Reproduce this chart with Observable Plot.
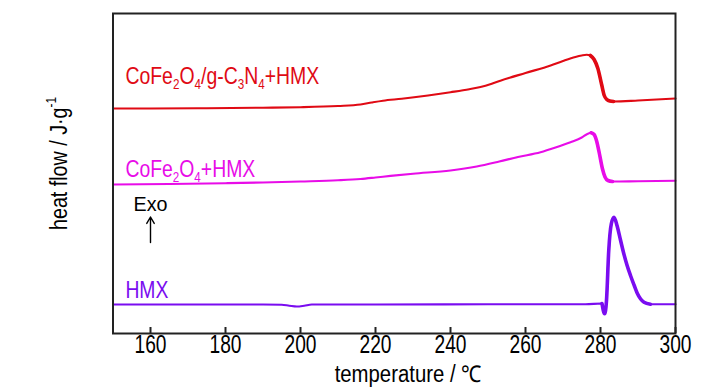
<!DOCTYPE html>
<html><head><meta charset="utf-8">
<script src="https://cdn.jsdelivr.net/npm/d3@7"></script>
<script src="https://cdn.jsdelivr.net/npm/@observablehq/plot@0.6"></script>
<style>
body{margin:0;background:#fff;}
</style></head><body><div id="chart"></div>
<script>
// ---- data (heat flow, arbitrary offset units; higher = exothermic) ----
const seriesNames = ["CoFe_2O_4/g-C_3N_4+HMX", "CoFe_2O_4+HMX", "HMX"];
const seriesColors = ["#e00a14", "#e80ce8", "#7a0cf0"];

const redT = [150, 160, 175, 190, 200, 210, 216, 219, 222, 227, 234, 240, 245, 248, 251, 253.3, 260, 266.7, 270, 273.3, 275, 276.3, 277.3, 278.3, 279.3, 280.3, 281, 281.7, 282.5, 283.5, 290, 300];
const redV = [225, 225, 225.3, 225.8, 226.3, 227.5, 229, 231, 232.8, 234.7, 238, 241.3, 244.3, 246.5, 249.8, 252.8, 260.5, 268, 272.5, 276.5, 278, 278.7, 278, 274, 265, 249, 238, 234, 232.5, 232, 233, 235];

const magT = [150, 165, 180, 190, 200, 210, 216, 220, 224, 230, 240, 247, 253, 258, 264, 268, 272, 275, 276.5, 277.5, 278.3, 279, 279.7, 280.5, 281.2, 282, 283.2, 290, 300];
const magV = [149, 149.5, 150.3, 151, 152, 153.2, 154.5, 156, 157.6, 159.8, 163, 167, 172, 176.5, 181.3, 186, 191.3, 196, 199.5, 200.7, 199, 192, 180, 165, 156.5, 153, 152, 152.3, 152.7];

const hmxT = [150, 170, 190, 195, 197, 199, 201, 203, 220, 250, 276, 280.4, 281.1, 281.6, 282.2, 282.9, 283.6, 284.4, 285.3, 286.2, 287.1, 288, 289, 289.8, 290.7, 291.6, 293.3, 300];
const hmxV = [29, 29, 29, 28.7, 27.8, 27, 27.8, 29, 29, 29.2, 29.3, 30, 19.7, 33, 83, 110, 116.3, 108, 94, 80, 68, 58, 48, 40.3, 34.5, 31.3, 29.3, 29.3];

const xTicks = [160, 180, 200, 220, 240, 260, 280, 300];
const xTitle = "temperature / \u2103";
const yTitle = "heat flow / J\u00b7g^{-1}";

// label anchor positions (temperature, heat flow)
const labelT = [153.3, 153.3, 153.3];
const labelV = [249.7, 157, 35.7];

const exoText = ["Exo"];
const exoT = [160];
const exoV = [123];
const arrowFrom = [91];
const arrowTo = [116.5];

// ---- build tables ----
const rows = [];
[[redT, redV], [magT, magV], [hmxT, hmxV]].forEach(([T, V], i) => {
  T.forEach((t, j) => rows.push({series: seriesNames[i], idx: i, t, v: V[j]}));
});
const labels = seriesNames.map((s, i) => ({series: s, t: labelT[i], v: labelV[i]}));
const exo = exoText.map((s, i) => ({text: s, t: exoT[i], v: exoV[i], v1: arrowFrom[i], v2: arrowTo[i]}));

// steep parts of the traces are drawn heavier (dense recording in the original)
const heavyRange = [[277, 283.5], [277.5, 283.2], [280.4, 293.3]];
const heavyRows = rows.filter(d => d.t >= heavyRange[d.idx][0] && d.t <= heavyRange[d.idx][1]);

const FONT = "'Liberation Sans Narrow','Arial Narrow','Liberation Sans',Arial,sans-serif";

const plot = Plot.plot({
  width: 728, height: 390,
  marginLeft: 112.5, marginRight: 53, marginTop: 13, marginBottom: 57,
  style: {fontFamily: FONT, background: "#fff", color: "#000", overflow: "visible"},
  x: {domain: [150, 300]},
  y: {domain: [0, 320], axis: null},
  color: {domain: seriesNames, range: seriesColors},
  marks: [
    Plot.line(rows, {x: "t", y: "v", z: "series", stroke: "series", strokeWidth: 2.1, curve: "monotone-x"}),
    Plot.line(heavyRows, {x: "t", y: "v", z: "series", stroke: "series", strokeWidth: 3.6, curve: "monotone-x"}),
    Plot.frame({stroke: "#222", strokeWidth: 2}),
    Plot.axisX({ticks: xTicks, tickSize: -6, tickPadding: 7, fontSize: 26, label: null, stroke: "#222", strokeWidth: 2}),
    Plot.text([xTitle], {frameAnchor: "bottom", text: d => d, dx: 14, dy: 48.7, lineAnchor: "bottom", fontSize: 23}),
    Plot.text([yTitle], {frameAnchor: "left", text: d => d, rotate: -90, textAnchor: "middle", lineAnchor: "middle", dx: -54, dy: -10, fontSize: 24}),
    Plot.text(labels, {x: "t", y: "v", text: "series", fill: "series", textAnchor: "start", lineAnchor: "bottom", fontSize: 23}),
    Plot.text(exo, {x: "t", y: "v", text: "text", textAnchor: "middle", lineAnchor: "bottom", fontSize: 20}),
    Plot.arrow(exo, {x1: "t", x2: "t", y1: "v1", y2: "v2", stroke: "#000", strokeWidth: 1.4, headLength: 8})
  ]
});

// rich text: _X subscript, ^{..} superscript
function richify(el, fs) {
  const s = el.textContent;
  if (!/[_^]/.test(s)) return;
  el.textContent = "";
  const parts = s.split(/(_[^_^]|\^\{[^}]*\})/).filter(p => p !== "");
  let shift = 0;
  for (const p of parts) {
    const ts = document.createElementNS("http://www.w3.org/2000/svg", "tspan");
    let target = 0, txt = p, small = false;
    if (p[0] === "_") { target = 0.22 * fs; txt = p.slice(1); small = true; }
    else if (p[0] === "^") { target = -0.45 * fs; txt = p.slice(2, -1); small = true; }
    if (small) ts.setAttribute("font-size", (0.6 * fs).toFixed(1));
    const d = target - shift;
    if (d !== 0) ts.setAttribute("dy", d.toFixed(2));
    shift = target;
    ts.textContent = txt;
    el.appendChild(ts);
  }
}

// condensed rendering widths (the reference uses a narrow face)
const widthByText = {};
widthByText[seriesNames[0]] = 194;
widthByText[seriesNames[1]] = 130;
widthByText[seriesNames[2]] = 43;
widthByText[xTitle] = 147;
widthByText[yTitle] = 133;
widthByText[exoText[0]] = 34;

document.getElementById("chart").appendChild(plot);
d3.select(plot).selectAll("text").each(function() {
  const raw = this.textContent;
  const fs = parseFloat(getComputedStyle(this).fontSize) || 22;
  richify(this, fs);
  let w = widthByText[raw];
  if (w == null && /^\d{3}$/.test(raw)) w = 32;
  if (w != null) {
    const cur = this.getComputedTextLength();
    if (cur > 0) {
      const sx = w / cur;
      const tr = this.getAttribute("transform") || "";
      this.setAttribute("transform", (tr + " scale(" + sx.toFixed(4) + ",1)").trim());
    }
  }
});
</script>
</body></html>
